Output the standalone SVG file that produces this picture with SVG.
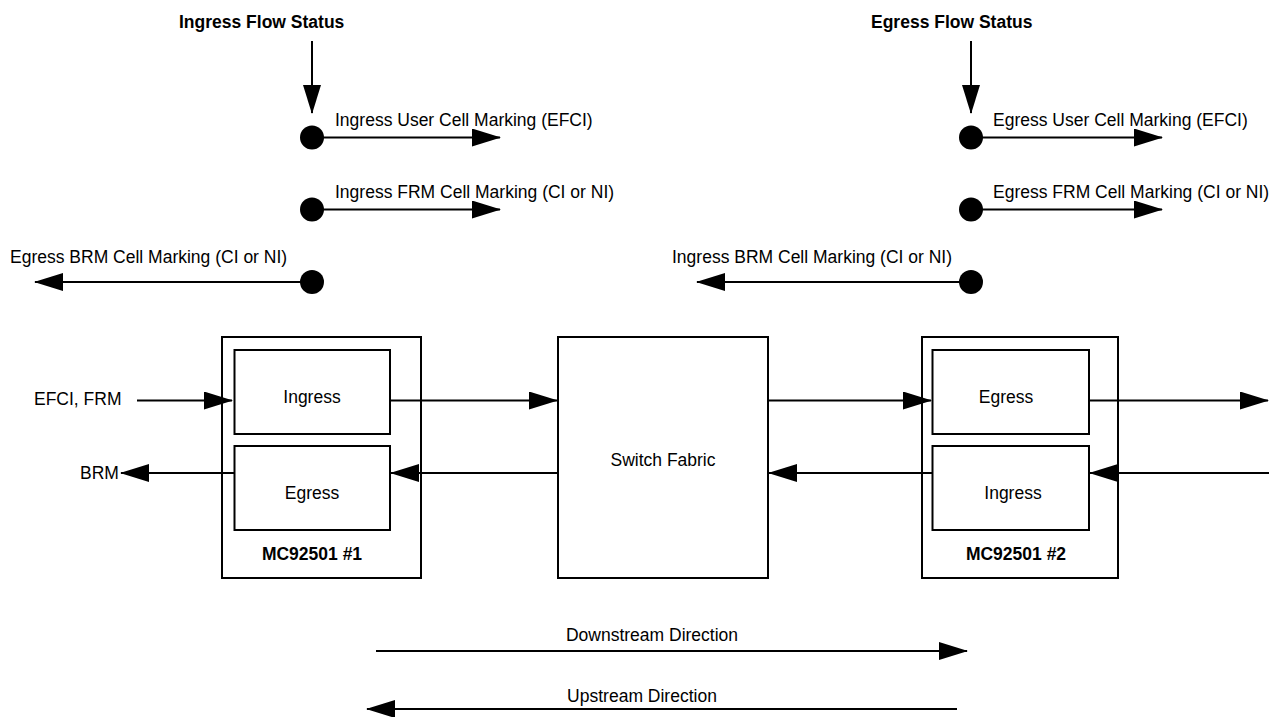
<svg xmlns="http://www.w3.org/2000/svg" width="1269" height="717" viewBox="0 0 1269 717">
<style>
text{font-family:"Liberation Sans",Arial,sans-serif;font-size:17.5px;fill:#000}
.b{font-weight:bold}
.m{text-anchor:middle}
.box{fill:#fff;stroke:#000;stroke-width:2}
.ln{stroke:#000;stroke-width:2;fill:none;marker-end:url(#ah)}
.dot{fill:#000}
</style>
<defs>
<marker id="ah" markerUnits="userSpaceOnUse" markerWidth="30" markerHeight="20" refX="28" refY="9" orient="auto">
<path d="M0,0 L29,9 L0,18 z" fill="#000"/>
</marker>
</defs>
<rect width="1269" height="717" fill="#fff"/>
<g id="mc1">
<rect class="box" x="222" y="337" width="199" height="241"/>
<text class="b m" x="312" y="560">MC92501 #1</text>
</g>
<g id="mc1-ingress">
<rect class="box" x="234.5" y="350" width="155.5" height="84"/>
<text class="m" x="312" y="403">Ingress</text>
</g>
<g id="mc1-egress">
<rect class="box" x="234.5" y="446" width="155.5" height="84"/>
<text class="m" x="312" y="499">Egress</text>
</g>
<g id="switch-fabric">
<rect class="box" x="558" y="337" width="210" height="241"/>
<text class="m" x="663" y="466">Switch Fabric</text>
</g>
<g id="mc2">
<rect class="box" x="922" y="337" width="196" height="241"/>
<text class="b m" x="1016" y="560">MC92501 #2</text>
</g>
<g id="mc2-egress">
<rect class="box" x="932.5" y="350" width="156.5" height="84"/>
<text class="m" x="1006" y="403">Egress</text>
</g>
<g id="mc2-ingress">
<rect class="box" x="932.5" y="446" width="156.5" height="84"/>
<text class="m" x="1013" y="499">Ingress</text>
</g>
<g id="ingress-status">
<text class="b" x="179" y="28">Ingress Flow Status</text>
<circle class="dot" cx="312" cy="137.5" r="12"/>
<circle class="dot" cx="312" cy="209.5" r="12"/>
<circle class="dot" cx="312" cy="282" r="12"/>
<text x="335" y="126">Ingress User Cell Marking (EFCI)</text>
<text x="335" y="198">Ingress FRM Cell Marking (CI or NI)</text>
<text x="10" y="263">Egress BRM Cell Marking (CI or NI)</text>
</g>
<g id="egress-status">
<text class="b" x="871" y="28">Egress Flow Status</text>
<circle class="dot" cx="971" cy="137.5" r="12"/>
<circle class="dot" cx="971" cy="209.5" r="12"/>
<circle class="dot" cx="971" cy="282" r="12"/>
<text x="993" y="126">Egress User Cell Marking (EFCI)</text>
<text x="993" y="198">Egress FRM Cell Marking (CI or NI)</text>
<text x="672" y="263">Ingress BRM Cell Marking (CI or NI)</text>
</g>
<g id="labels">
<text x="34" y="405">EFCI, FRM</text>
<text x="80" y="479">BRM</text>
<text class="m" x="652" y="641">Downstream Direction</text>
<text class="m" x="642" y="702">Upstream Direction</text>
</g>
<g id="connectors">
<line class="ln" x1="312" y1="41" x2="312" y2="113"/>
<line class="ln" x1="971" y1="41" x2="971" y2="113"/>
<line class="ln" x1="312" y1="137.5" x2="500" y2="137.5"/>
<line class="ln" x1="312" y1="209.5" x2="500" y2="209.5"/>
<line class="ln" x1="312" y1="282" x2="35" y2="282"/>
<line class="ln" x1="971" y1="137.5" x2="1162" y2="137.5"/>
<line class="ln" x1="971" y1="209.5" x2="1162" y2="209.5"/>
<line class="ln" x1="971" y1="282" x2="697" y2="282"/>
<line class="ln" x1="137" y1="400.5" x2="232" y2="400.5"/>
<line class="ln" x1="390" y1="400.5" x2="557" y2="400.5"/>
<line class="ln" x1="558" y1="473" x2="391" y2="473"/>
<line class="ln" x1="234.5" y1="473" x2="121" y2="473"/>
<line class="ln" x1="768" y1="400.5" x2="931" y2="400.5"/>
<line class="ln" x1="1089" y1="400.5" x2="1268" y2="400.5"/>
<line class="ln" x1="1272" y1="473" x2="1090" y2="473"/>
<line class="ln" x1="932.5" y1="473" x2="769" y2="473"/>
<line class="ln" x1="376" y1="651" x2="967" y2="651"/>
<line class="ln" x1="957" y1="709" x2="367" y2="709"/>
</g>
</svg>
